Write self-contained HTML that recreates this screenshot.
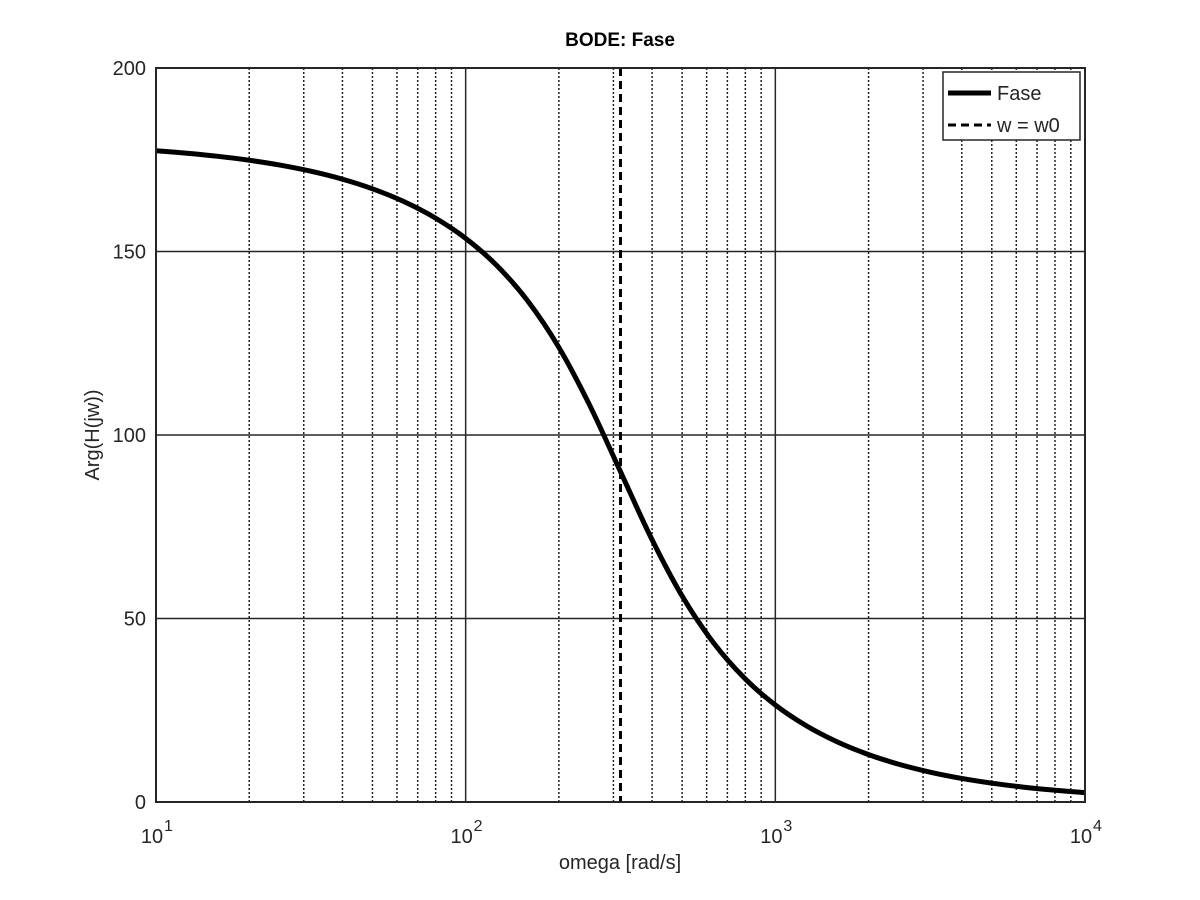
<!DOCTYPE html>
<html><head><meta charset="utf-8"><style>
html,body{margin:0;padding:0;background:#fff;}
svg{display:block;font-family:"Liberation Sans",sans-serif;}
</style></head><body>
<svg id="chart" width="1200" height="900">
<rect width="1200" height="900" fill="#fff"/>
<g id="grid"></g>
<g id="series"></g>
<rect x="156" y="68" width="929" height="734" fill="none" stroke="#262626" stroke-width="2"/>
<g id="ticks" font-size="20" fill="#262626"></g>
<text x="620" y="46" text-anchor="middle" font-size="19" font-weight="bold" fill="#000">BODE: Fase</text>
<text x="620" y="869" text-anchor="middle" font-size="20" fill="#262626">omega [rad/s]</text>
<text transform="translate(99,435) rotate(-90)" text-anchor="middle" font-size="20" fill="#262626">Arg(H(jw))</text>
<g>
<rect x="943" y="72" width="137" height="68" fill="#fff" stroke="#262626" stroke-width="1.5"/>
<line x1="948" y1="93" x2="991" y2="93" stroke="#000" stroke-width="5"/>
<text x="997" y="100" font-size="20" fill="#262626">Fase</text>
<line x1="948" y1="125" x2="991" y2="125" stroke="#000" stroke-width="3" stroke-dasharray="8,5"/>
<text x="997" y="132" font-size="20" fill="#262626">w = w0</text>
</g>
</svg>
<script>
const logOmega = [1,1.1,1.2,1.3,1.4,1.5,1.6,1.7,1.8,1.9,2,2.1,2.2,2.3,2.4,2.5,2.6,2.7,2.8,2.9,3,3.1,3.2,3.3,3.4,3.5,3.6,3.7,3.8,3.9,4];
const phase = [177.44,176.77,175.94,174.88,173.55,171.87,169.75,167.05,163.62,159.23,153.58,146.22,136.57,124.01,108.19,90,71.81,55.99,43.43,33.78,26.42,20.77,16.38,12.95,10.25,8.13,6.45,5.12,4.06,3.23,2.56];
const w0 = 316.2;
const yTicks = [0,50,100,150,200];
const xDecades = [1,2,3,4];

const NS='http://www.w3.org/2000/svg';
const X0=156,X1=1085,Y0=802,Y1=68;
const xs = lw => X0 + (lw-1)/3*(X1-X0);
const ys = v => Y0 - v/200*(Y0-Y1);
function mk(tag, attrs, parent){const e=document.createElementNS(NS,tag);for(const k in attrs)e.setAttribute(k,attrs[k]);parent.appendChild(e);return e;}
const grid=document.getElementById('grid'), ser=document.getElementById('series'), tk=document.getElementById('ticks');

yTicks.forEach(v=>{
  const l=mk('line',{x1:X0,x2:X1,y1:ys(v),y2:ys(v),stroke:'#262626','stroke-width':1.5},grid);
  
  
  const t=mk('text',{x:X0-10,y:ys(v)+7,'text-anchor':'end'},tk);
  t.textContent=v;
  
  
});
for(let d=1; d<4; d++){
  for(let m=2;m<=9;m++){
    const x=xs(d+Math.log10(m));
    const l=mk('line',{x1:x,x2:x,y1:Y1,y2:Y0,stroke:'#222','stroke-width':1.5,'stroke-dasharray':'2,2'},grid);
    
    
  }
}
xDecades.forEach(d=>{
  const x=xs(d);
  const l=mk('line',{x1:x,x2:x,y1:Y1,y2:Y0,stroke:'#262626','stroke-width':1.5},grid);
  
  
  const t=mk('text',{x:x-4,y:843,'text-anchor':'middle'},tk);
  t.textContent='10';
  
  
  const s=mk('text',{x:x+8,y:831,'font-size':16},tk);
  s.textContent=d;
  
  
});
const P=logOmega.map((lw,i)=>[xs(lw),ys(phase[i])]);
let d='M'+P[0][0]+','+P[0][1];
for(let i=0;i<P.length-1;i++){
  const p0=P[Math.max(0,i-1)],p1=P[i],p2=P[i+1],p3=P[Math.min(P.length-1,i+2)];
  const c1=[p1[0]+(p2[0]-p0[0])/6,p1[1]+(p2[1]-p0[1])/6];
  const c2=[p2[0]-(p3[0]-p1[0])/6,p2[1]-(p3[1]-p1[1])/6];
  d+=` C${c1[0]},${c1[1]} ${c2[0]},${c2[1]} ${p2[0]},${p2[1]}`;
}
const curve=mk('path',{d:d,fill:'none',stroke:'#000','stroke-width':5,'stroke-linejoin':'round'},ser);


const xw=xs(Math.log10(w0));
const vl=mk('line',{x1:xw,x2:xw,y1:Y1,y2:Y0,stroke:'#000','stroke-width':3,'stroke-dasharray':'8,5'},ser);


</script>
</body></html>
